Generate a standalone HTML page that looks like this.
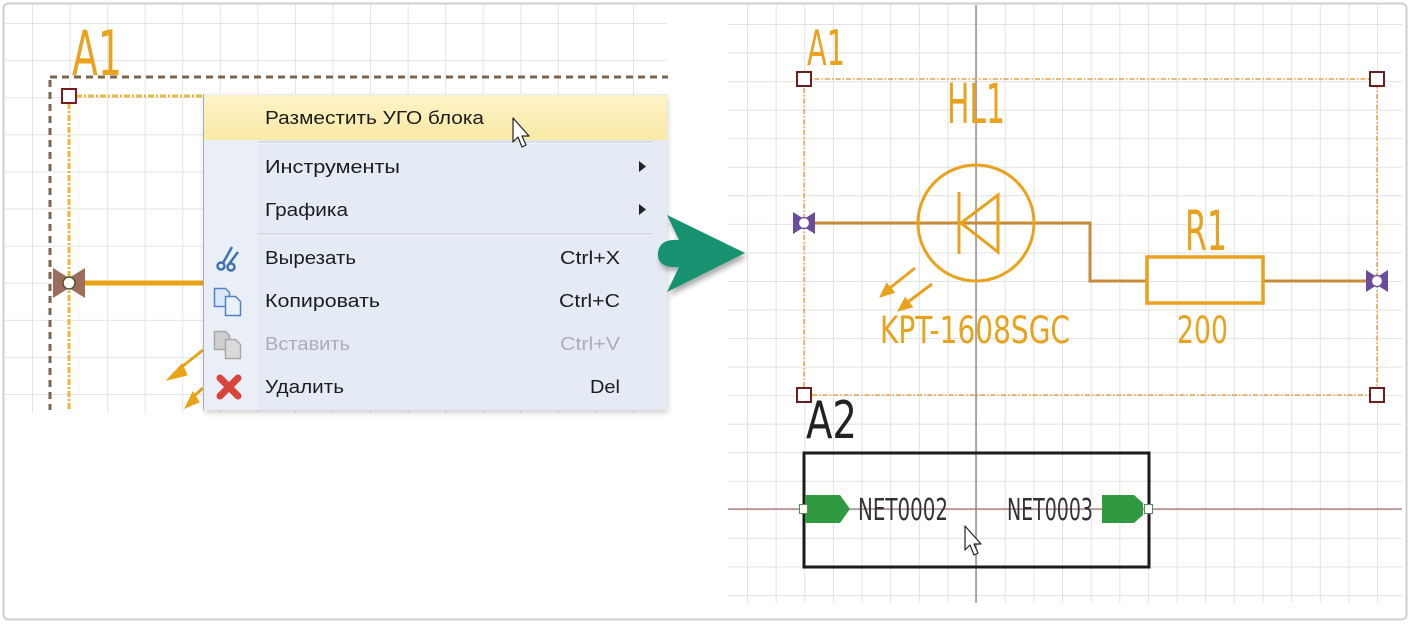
<!DOCTYPE html>
<html><head><meta charset="utf-8"><style>
html,body{margin:0;padding:0;background:#fff;}
svg{display:block;}
.sch{font-family:"Liberation Sans Narrow","DejaVu Sans Condensed","Liberation Sans",sans-serif;}
.menu{font-family:"Liberation Sans","DejaVu Sans",sans-serif;font-size:18px;fill:#1c1c1c;}
</style></head><body>
<svg width="1410" height="624" viewBox="0 0 1410 624" xmlns="http://www.w3.org/2000/svg">
<defs>
<pattern id="gL" patternUnits="userSpaceOnUse" x="32" y="23" width="37.56" height="37.1">
<path d="M0 0.5H37.56M0.5 0V37.1" stroke="#e4e4e4" stroke-width="1" fill="none"/>
</pattern>
<pattern id="gR" patternUnits="userSpaceOnUse" x="747" y="24" width="28.64" height="28.55">
<path d="M0 0.5H28.64M0.5 0V28.55" stroke="#e2e2e2" stroke-width="1" fill="none"/>
</pattern>
<filter id="sh" x="-30%" y="-30%" width="160%" height="160%">
<feGaussianBlur in="SourceAlpha" stdDeviation="3"/>
<feOffset dx="2" dy="4" result="b"/>
<feComponentTransfer><feFuncA type="linear" slope="0.35"/></feComponentTransfer>
<feMerge><feMergeNode/><feMergeNode in="SourceGraphic"/></feMerge>
</filter>
<filter id="msh" x="-5%" y="-5%" width="110%" height="115%">
<feGaussianBlur in="SourceAlpha" stdDeviation="3"/>
<feOffset dx="1" dy="3"/>
<feComponentTransfer><feFuncA type="linear" slope="0.18"/></feComponentTransfer>
<feMerge><feMergeNode/><feMergeNode in="SourceGraphic"/></feMerge>
</filter>
<linearGradient id="hl" x1="0" y1="0" x2="0" y2="1">
<stop offset="0" stop-color="#fdf3c6"/><stop offset="1" stop-color="#f9e9a6"/>
</linearGradient>
</defs>

<!-- left grid -->
<rect x="5" y="5" width="662" height="408" fill="url(#gL)"/>
<!-- right grid -->
<rect x="728" y="5" width="674" height="598" fill="url(#gR)"/>

<!-- LEFT PANEL -->
<text class="sch" x="72" y="75" font-size="62" fill="#e8a21c" textLength="50" lengthAdjust="spacingAndGlyphs">A1</text>
<line x1="50" y1="77" x2="668" y2="77" stroke="#7d644c" stroke-width="3" stroke-dasharray="7 5"/>
<line x1="50" y1="80" x2="50" y2="410" stroke="#7d644c" stroke-width="3" stroke-dasharray="7 5"/>
<line x1="69" y1="103" x2="69" y2="410" stroke="#e6b93a" stroke-width="3" stroke-dasharray="6 2 2 2"/>
<line x1="76" y1="96" x2="203" y2="96" stroke="#e6b93a" stroke-width="3" stroke-dasharray="6 2 2 2"/>
<rect x="62" y="89" width="14" height="14" fill="#fff" stroke="#7a1d1d" stroke-width="2"/>
<line x1="76" y1="283" x2="203" y2="283" stroke="#e8a317" stroke-width="5"/>
<polygon points="53,268 69,278 85,268 85,298 69,288 53,298" fill="#9c6c5c"/>
<circle cx="69" cy="283" r="6" fill="#fff" stroke="#4a5a2a" stroke-width="1.5"/>
<!-- left LED arrows -->
<g stroke="#e8a317" fill="#e8a317">
<line x1="203" y1="350" x2="178" y2="370" stroke-width="3"/>
<polygon points="167,380 182,364 187,375"/>
<line x1="203" y1="388" x2="192" y2="398" stroke-width="3"/>
<polygon points="185,408 193,392 199,402"/>
</g>

<!-- context menu -->
<g filter="url(#msh)">
<rect x="203" y="94" width="464" height="316" fill="#e5ebf5"/>
</g>
<rect x="203" y="94" width="55" height="316" fill="#eaeef6"/>
<line x1="203.5" y1="94" x2="203.5" y2="410" stroke="#a7aebb" stroke-width="1"/>
<rect x="204" y="95" width="463" height="45" fill="url(#hl)"/>
<line x1="258" y1="142" x2="653" y2="142" stroke="#c3cad6" stroke-width="1"/>
<line x1="258" y1="143" x2="653" y2="143" stroke="#f6f8fc" stroke-width="1"/>
<line x1="258" y1="234" x2="653" y2="234" stroke="#c3cad6" stroke-width="1"/>
<line x1="258" y1="235" x2="653" y2="235" stroke="#f6f8fc" stroke-width="1"/>
<g class="menu">
<text x="265" y="124" textLength="219" lengthAdjust="spacingAndGlyphs">Разместить УГО блока</text>
<text x="265" y="173" textLength="135" lengthAdjust="spacingAndGlyphs">Инструменты</text>
<text x="265" y="216" textLength="83" lengthAdjust="spacingAndGlyphs">Графика</text>
<text x="265" y="264" textLength="91" lengthAdjust="spacingAndGlyphs">Вырезать</text>
<text x="265" y="307" textLength="115" lengthAdjust="spacingAndGlyphs">Копировать</text>
<text x="265" y="350" textLength="85" lengthAdjust="spacingAndGlyphs" fill="#a9aeb7">Вставить</text>
<text x="265" y="393" textLength="79" lengthAdjust="spacingAndGlyphs">Удалить</text>
<text x="620" y="264" text-anchor="end" textLength="60" lengthAdjust="spacingAndGlyphs">Ctrl+X</text>
<text x="620" y="307" text-anchor="end" textLength="61" lengthAdjust="spacingAndGlyphs">Ctrl+C</text>
<text x="620" y="350" text-anchor="end" textLength="60" lengthAdjust="spacingAndGlyphs" fill="#a9aeb7">Ctrl+V</text>
<text x="620" y="393" text-anchor="end" textLength="30" lengthAdjust="spacingAndGlyphs">Del</text>
</g>
<polygon points="639,161 646,166.5 639,172" fill="#222"/>
<polygon points="639,204 646,209.5 639,215" fill="#222"/>
<!-- icons -->
<g stroke="#3f72b5" stroke-width="2.5" fill="none">
<circle cx="221" cy="266" r="3.5"/><circle cx="231" cy="267" r="3.5"/>
<line x1="223" y1="263" x2="232" y2="247"/><line x1="229" y1="264" x2="238" y2="252"/>
</g>
<g stroke="#4e84c4" stroke-width="1.5">
<path d="M214.5,288.5h11l4,4v14h-15z" fill="#dbe8f7"/>
<path d="M225.5,296.5h10l5,5v14h-15z" fill="#e9f1fb"/>
</g>
<g stroke="#a8a8a8" stroke-width="1.5">
<path d="M214.5,331.5h11l4,4v14h-15z" fill="#cfcfcf"/>
<path d="M225.5,339.5h10l5,5v14h-15z" fill="#dadada"/>
</g>
<g stroke="#d9443c" stroke-width="7" stroke-linecap="round">
<line x1="220" y1="378" x2="238" y2="396"/><line x1="238" y1="378" x2="220" y2="396"/>
</g>
<!-- cursor in menu -->
<path d="M513,118 L513,142 L518,137 L522,147 L526,145 L522,136 L529,136 Z" fill="#fff" stroke="#222" stroke-width="1.2" stroke-linejoin="round"/>

<!-- green arrow -->
<path d="M667,215 L745,253 L667,292 L679,267 C663,268 657,262 658,253 C659,244 665,239 679,240 Z" fill="#17926f" filter="url(#sh)"/>

<!-- RIGHT PANEL -->
<line x1="976" y1="5" x2="976" y2="603" stroke="#8c7f7c" stroke-width="1.3"/>
<line x1="728" y1="509" x2="1402" y2="509" stroke="#a07272" stroke-width="1.3"/>

<text class="sch" x="807" y="65" font-size="49" fill="#e8a21c" textLength="38" lengthAdjust="spacingAndGlyphs">A1</text>
<rect x="804" y="79" width="573" height="316" fill="none" stroke="#e3a448" stroke-width="1.5" stroke-dasharray="5 2 1.5 2"/>
<text class="sch" x="947" y="123" font-size="55" fill="#e8a21c" textLength="58" lengthAdjust="spacingAndGlyphs">HL1</text>
<path d="M815,223 L1090,223 L1090,281 L1147,281 M1263,281 L1370,281" fill="none" stroke="#c98b38" stroke-width="3"/>
<circle cx="976" cy="223" r="58" fill="none" stroke="#e8a21c" stroke-width="3"/>
<line x1="959" y1="192" x2="959" y2="254" stroke="#e8a21c" stroke-width="3"/>
<polygon points="998,195 998,252 961,223" fill="none" stroke="#e8a21c" stroke-width="3" stroke-linejoin="miter"/>
<rect x="1147" y="257" width="116" height="46" fill="none" stroke="#e8a21c" stroke-width="3.5"/>
<text class="sch" x="1185" y="250" font-size="55" fill="#e8a21c" textLength="42" lengthAdjust="spacingAndGlyphs">R1</text>
<text class="sch" x="1177" y="343" font-size="37" fill="#e8a21c" textLength="51" lengthAdjust="spacingAndGlyphs">200</text>
<text class="sch" x="880" y="343" font-size="37" fill="#e8a21c" textLength="190" lengthAdjust="spacingAndGlyphs">KPT-1608SGC</text>
<!-- LED arrows -->
<g stroke="#e8a21c" fill="#e8a21c">
<line x1="915" y1="268" x2="890" y2="288" stroke-width="3"/>
<polygon points="880,297 886.7,283.3 894.5,292.5"/>
<line x1="932" y1="284" x2="908" y2="302" stroke-width="3"/>
<polygon points="898,311 905.2,297.6 912.6,307"/>
</g>
<!-- pins -->
<polygon points="793,212 804,219 815,212 815,234 804,227 793,234" fill="#6b4c9c"/>
<circle cx="804" cy="223" r="5.5" fill="#fff" stroke="#6b4c9c" stroke-width="1.2"/>
<polygon points="1366,270 1377,277 1388,270 1388,292 1377,285 1366,292" fill="#6b4c9c"/>
<circle cx="1377" cy="281" r="5.5" fill="#fff" stroke="#6b4c9c" stroke-width="1.2"/>
<!-- handles -->
<g fill="#fff" stroke="#6e1c1c" stroke-width="2">
<rect x="797" y="72" width="14" height="14"/>
<rect x="1370" y="72" width="14" height="14"/>
<rect x="797" y="388" width="14" height="14"/>
<rect x="1370" y="388" width="14" height="14"/>
</g>

<!-- A2 -->
<text class="sch" x="806" y="438" font-size="52" fill="#222" textLength="51" lengthAdjust="spacingAndGlyphs">A2</text>
<rect x="804" y="453" width="345" height="114" fill="none" stroke="#1c1c1c" stroke-width="3"/>
<polygon points="805,495 840,495 850,509 840,523 805,523" fill="#2f9a3f"/>
<polygon points="1102,495 1134,495 1143,503 1143,515 1134,523 1102,523" fill="#2f9a3f"/>
<rect x="799.5" y="504.5" width="8" height="9" fill="#fff" stroke="#5b8a5b" stroke-width="1"/>
<rect x="1144.5" y="504.5" width="8" height="9" fill="#fff" stroke="#5b8a5b" stroke-width="1"/>
<text class="sch" x="858" y="520" font-size="30" fill="#333" textLength="90" lengthAdjust="spacingAndGlyphs">NET0002</text>
<text class="sch" x="1007" y="520" font-size="30" fill="#333" textLength="86" lengthAdjust="spacingAndGlyphs">NET0003</text>
<path d="M965,526 L965,550 L970,545 L974,555 L978,553 L974,544 L981,544 Z" fill="#fff" stroke="#222" stroke-width="1.2" stroke-linejoin="round"/>

<!-- outer border -->
<rect x="3.5" y="3.5" width="1403" height="616" rx="5" fill="none" stroke="#cfcfcf" stroke-width="2"/>
</svg>
</body></html>
